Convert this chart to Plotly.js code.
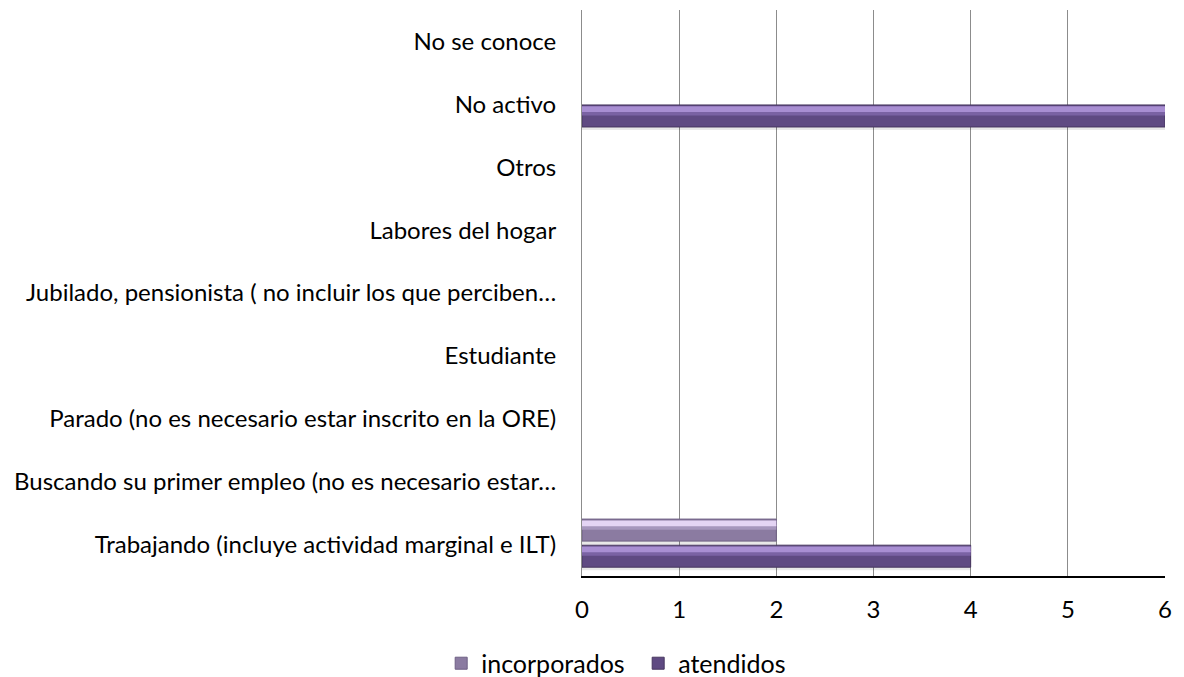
<!DOCTYPE html>
<html>
<head>
<meta charset="utf-8">
<script src="https://cdn.plot.ly/plotly-3.0.1.min.js"></script>
<style>
  html, body { margin: 0; padding: 0; background: #fff; }
  #chart { width: 1184px; height: 677px; }
</style>
</head>
<body>
<div id="chart"></div>
<script>
// Situation categories, listed bottom to top
const categories = [
  "Trabajando (incluye actividad marginal e ILT)",
  "Buscando su primer empleo (no es necesario estar…",
  "Parado (no es necesario estar inscrito en la ORE)",
  "Estudiante",
  "Jubilado, pensionista ( no incluir los que perciben…",
  "Labores del hogar",
  "Otros",
  "No activo",
  "No se conoce"
];
const incorporados = [2, 0, 0, 0, 0, 0, 0, 0, 0];
const atendidos    = [4, 0, 0, 0, 0, 0, 0, 6, 0];
const xTicks = [0, 1, 2, 3, 4, 5, 6];

// bar geometry within each category slot (category units)
const BAR_W = 0.35;
const OFF_INC = 0.055;
const OFF_ATE = -0.36;

// outline only on bars that actually have length
const edge = (values, w) => values.map(v => (v ? w : 0));

function bar(values, offset, width, color, opts) {
  return Object.assign({
    type: 'bar', orientation: 'h',
    x: values, y: categories,
    offset: offset, width: width,
    marker: { color: color, line: { width: 0 } },
    hoverinfo: 'skip', showlegend: false
  }, opts || {});
}

const traces = [
  // soft drop shadows
  bar(incorporados, OFF_INC - 0.05, BAR_W, 'rgba(0,0,0,0.09)'),
  bar(atendidos, OFF_ATE - 0.05, BAR_W, 'rgba(0,0,0,0.09)'),
  // main bars
  bar(incorporados, OFF_INC, BAR_W, '#8B7BA1', {
    name: 'incorporados', showlegend: true,
    marker: { color: '#8B7BA1', line: { color: '#6E6084', width: edge(incorporados, 1) } }
  }),
  bar(atendidos, OFF_ATE, BAR_W, '#5F4A82', {
    name: 'atendidos', showlegend: true,
    marker: { color: '#5F4A82', line: { color: '#47365F', width: edge(atendidos, 1) } }
  }),
  // glossy bands along the upper edge
  bar(incorporados, OFF_INC + BAR_W * 0.52, BAR_W * 0.22, '#A696BD'),
  bar(incorporados, OFF_INC + BAR_W * 0.68, BAR_W * 0.26, '#E4D4F4'),
  bar(atendidos, OFF_ATE + BAR_W * 0.52, BAR_W * 0.22, '#7A62A3'),
  bar(atendidos, OFF_ATE + BAR_W * 0.68, BAR_W * 0.26, '#A88ED2')
];

const font = { family: 'Lato, "Open Sans", sans-serif', size: 24, color: '#000' };

const layout = {
  width: 1184, height: 677,
  margin: { l: 582, r: 19, t: 10, b: 101, autoexpand: false },
  paper_bgcolor: '#fff', plot_bgcolor: '#fff',
  font: font,
  barmode: 'overlay',
  xaxis: {
    range: [0, 6], tickvals: xTicks, ticktext: xTicks.map(String),
    showgrid: true, gridcolor: '#8C8C8C', gridwidth: 1,
    zeroline: false, showline: true, linecolor: '#000', linewidth: 1.5,
    ticks: '', ticklabelstandoff: 12, tickfont: font, fixedrange: true,
    automargin: false
  },
  yaxis: {
    type: 'category', categoryorder: 'array', categoryarray: categories,
    range: [-0.5, 8.5],
    showgrid: false, zeroline: false,
    showline: true, linecolor: '#8C8C8C', linewidth: 1,
    ticks: '', ticklabelstandoff: 20, tickfont: font, fixedrange: true,
    automargin: false
  },
  showlegend: true,
  legend: {
    orientation: 'h',
    xref: 'container', x: 0.539, xanchor: 'center',
    yref: 'container', y: 0.02, yanchor: 'middle',
    font: { family: font.family, size: 25, color: '#000' },
    itemwidth: 30, traceorder: 'normal',
    entrywidth: 152, entrywidthmode: 'pixels',
    bgcolor: 'rgba(0,0,0,0)'
  }
};

Plotly.newPlot('chart', traces, layout, { displayModeBar: false, staticPlot: true });
</script>
</body>
</html>
